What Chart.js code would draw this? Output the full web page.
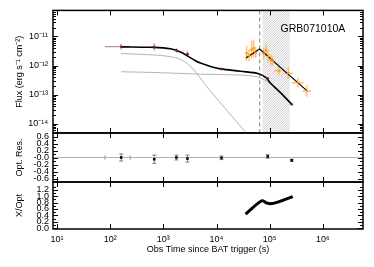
<!DOCTYPE html>
<html>
<head>
<meta charset="utf-8">
<script src="https://cdn.jsdelivr.net/npm/chart.js@4.4.0/dist/chart.umd.min.js"></script>
<style>
  html, body { margin: 0; padding: 0; background: #fff; }
  #wrap { position: relative; width: 374px; height: 267px; }
  #wrap canvas { position: absolute; left: 0; top: 0; }
</style>
</head>
<body>
<div id="wrap">
  <canvas id="fluxChart" width="374" height="267"></canvas>
  <canvas id="resChart" width="374" height="267"></canvas>
  <canvas id="ratioChart" width="374" height="267"></canvas>
</div>
<script>
// ── data (time in s, flux in erg/s/cm2) ──
const xTicks = [1e1, 1e2, 1e3, 1e4, 1e5, 1e6];

// optical data
const optTime = [161, 676, 1760, 2840, 12400, 91700, 260000];
const optTLo = [80, 676, 1760, 2840, 12400, 91700, 260000];
const optTHi = [238, 676, 1760, 2840, 12400, 91700, 260000];
const optFlux = [4.4e-12, 4.27e-12, 3.3e-12, 2.45e-12, 7.6e-13, 3.6e-13, 4.7e-14];
const optErr = [0.10, 0.12, 0.07, 0.10, 0.05, 0.05, 0.03];   // dex
const optRes = [0.00, -0.05, 0.00, -0.03, -0.01, 0.03, -0.08];

// optical model (total) and its two components
const modelTime = [161, 569, 1355, 2094, 2838, 4018, 4989, 7709, 11885, 28380, 61940, 84140, 104400, 161400, 260000];
const modelFlux = [4.36e-12, 4.2e-12, 3.75e-12, 2.88e-12, 2.13e-12, 1.46e-12, 1.21e-12, 9.27e-13, 7.67e-13, 6.35e-13, 5.26e-13, 3.89e-13, 2.47e-13, 1.16e-13, 4.7e-14];
const comp1Time = [161, 771, 1355, 2094, 3228, 4989, 7063, 35240, 43850];
const comp1Flux = [2.57e-12, 2.26e-12, 2.0e-12, 1.63e-12, 9.4e-13, 3.69e-13, 1.61e-13, 5.19e-15, 3.3e-15];
const comp2Time = [161, 877, 4989, 28380, 54450, 73790, 95720, 161400, 271700];
const comp2Flux = [6.12e-13, 5.68e-13, 5.07e-13, 4.7e-13, 4.2e-13, 3.48e-13, 2.57e-13, 1.08e-13, 4.05e-14];

// X-ray data and broken power-law fit
const xrtTime = [36810, 41020, 45710, 49860, 54450, 77090, 85900, 93760, 104400, 114000, 147900, 223400, 337300, 498800];
const xrtFlux = [2.63e-12, 2.21e-12, 3.47e-12, 3.89e-12, 2.77e-12, 2.57e-12, 3.35e-12, 2.05e-12, 1.57e-12, 1.41e-12, 6.61e-13, 5.47e-13, 2.57e-13, 1.35e-13];
const xrtTErr = [0.03, 0.03, 0.03, 0.03, 0.03, 0.04, 0.04, 0.04, 0.04, 0.04, 0.09, 0.09, 0.11, 0.08];  // dex
const xrtFErr = [0.26, 0.20, 0.30, 0.30, 0.20, 0.20, 0.20, 0.20, 0.20, 0.16, 0.16, 0.20, 0.16, 0.20];  // dex
const xfitTime = [35730, 64710, 505800];
const xfitFlux = [1.8e-12, 3.66e-12, 1.35e-13];

// X/Opt ratio
const ratioTime = [35240, 70630, 87700, 109000, 168300, 271700];
const ratioVal = [0.44, 0.86, 0.79, 0.77, 0.86, 0.99];

const breakTime = 65000;
const hatchFrom = 73800, hatchTo = 238000;

const T_MIN = 8.41, T_MAX = 5.69e6;
const FONT = "'Liberation Sans', Arial, sans-serif";

// ── helpers ──
const SUP = { '-': '⁻', '0': '⁰', '1': '¹', '2': '²', '3': '³', '4': '⁴', '5': '⁵', '6': '⁶', '7': '⁷', '8': '⁸', '9': '⁹' };
function pow10(v) {
  const e = Math.round(Math.log10(v));
  return '10' + String(e).split('').map(c => SUP[c]).join('');
}
const pts = (xs, ys) => xs.map((x, i) => ({ x, y: ys[i] }));
const dexLo = (v, e) => v.map((f, i) => f / Math.pow(10, e[i]));
const dexHi = (v, e) => v.map((f, i) => f * Math.pow(10, e[i]));
const setTicks = list => s => { s.ticks = list.map(v => ({ value: v })); };

// ── plugins ──
const frame = {
  id: 'frame',
  afterDraw(chart, args, o) {
    const { ctx, chartArea: a, scales } = chart;
    const x = scales.x, y = scales.y;
    ctx.save();
    ctx.strokeStyle = '#000';
    ctx.lineWidth = 1;
    ctx.beginPath();
    xTicks.forEach(v => {
      const px = Math.round(x.getPixelForValue(v)) + 0.5;
      ctx.moveTo(px, a.top); ctx.lineTo(px, a.top + 5);
      ctx.moveTo(px, a.bottom); ctx.lineTo(px, a.bottom - 5);
    });
    const tick = (v, len) => {
      const py = Math.round(y.getPixelForValue(v)) + 0.5;
      if (py < a.top || py > a.bottom) return;
      ctx.moveTo(a.left, py); ctx.lineTo(a.left + len, py);
      ctx.moveTo(a.right, py); ctx.lineTo(a.right - len, py);
    };
    o.major.forEach(v => tick(v, 5));
    o.minor.forEach(v => tick(v, 3));
    ctx.stroke();
    ctx.lineWidth = 1.5;
    ctx.strokeRect(a.left, a.top, a.right - a.left, a.bottom - a.top);
    ctx.restore();
  }
};

const hatch = {
  id: 'hatch',
  beforeDatasetsDraw(chart) {
    const { ctx, chartArea: a, scales: { x, y } } = chart;
    const x0 = x.getPixelForValue(hatchFrom), x1 = x.getPixelForValue(hatchTo);
    const h = a.bottom - a.top;
    ctx.save();
    ctx.beginPath();
    ctx.rect(x0, a.top, x1 - x0, h);
    ctx.clip();
    ctx.strokeStyle = '#a6a6a6';
    ctx.lineWidth = 0.6;
    ctx.beginPath();
    for (let k = x0 - h; k < x1; k += 2.4) {
      ctx.moveTo(k, a.bottom); ctx.lineTo(k + h, a.top);
    }
    ctx.stroke();
    ctx.restore();

    const xd = x.getPixelForValue(breakTime);
    ctx.save();
    ctx.setLineDash([4, 3]);
    ctx.strokeStyle = '#808080';
    ctx.lineWidth = 1;
    ctx.beginPath();
    ctx.moveTo(xd, a.top); ctx.lineTo(xd, a.bottom);
    ctx.stroke();
    ctx.restore();

    ctx.save();
    ctx.fillStyle = '#000';
    ctx.font = '10.5px ' + FONT;
    ctx.textBaseline = 'middle';
    ctx.fillText('GRB071010A', x.getPixelForValue(1.6e5), y.getPixelForValue(1.75e-11));
    ctx.restore();
  }
};

const errBars = {
  id: 'errBars',
  beforeDatasetsDraw(chart) {
    const { ctx, chartArea: a, scales: { x, y } } = chart;
    ctx.save();
    ctx.beginPath();
    ctx.rect(a.left, a.top, a.right - a.left, a.bottom - a.top);
    ctx.clip();
    chart.data.datasets.forEach(ds => {
      if (!ds.errColor) return;
      ctx.strokeStyle = ds.errColor;
      ctx.lineWidth = ds.errWidth || 1;
      ctx.beginPath();
      ds.data.forEach((p, i) => {
        const px = x.getPixelForValue(p.x), py = y.getPixelForValue(p.y);
        if (ds.yLo) {
          const y0 = y.getPixelForValue(ds.yLo[i]), y1 = y.getPixelForValue(ds.yHi[i]);
          ctx.moveTo(px, y0); ctx.lineTo(px, y1);
          if (ds.cap) {
            ctx.moveTo(px - ds.cap, y0); ctx.lineTo(px + ds.cap, y0);
            ctx.moveTo(px - ds.cap, y1); ctx.lineTo(px + ds.cap, y1);
          }
        }
        if (ds.xLo) {
          const x0 = x.getPixelForValue(ds.xLo[i]), x1 = x.getPixelForValue(ds.xHi[i]);
          if (x1 - x0 < 1) return;
          ctx.moveTo(x0, py); ctx.lineTo(x1, py);
          if (ds.cap) {
            ctx.moveTo(x0, py - ds.cap); ctx.lineTo(x0, py + ds.cap);
            ctx.moveTo(x1, py - ds.cap); ctx.lineTo(x1, py + ds.cap);
          }
        }
      });
      ctx.stroke();
    });
    ctx.restore();
  }
};

// ── shared scale pieces ──
const tickFont = { family: FONT, size: 9 };
const titleFont = { family: FONT, size: 9 };
function xScale(show) {
  return {
    type: 'logarithmic',
    min: T_MIN, max: T_MAX,
    display: show,
    afterBuildTicks: setTicks(xTicks),
    afterFit: s => { s.height = show ? 38 : 0; },
    grid: { display: false, drawTicks: false },
    border: { display: false },
    ticks: { font: tickFont, color: '#000', padding: 5, maxRotation: 0, autoSkip: false, callback: v => pow10(v) },
    title: { display: true, text: 'Obs Time since BAT trigger (s)', font: titleFont, color: '#000', padding: { top: 0, bottom: 12 } }
  };
}
function yBase(extra) {
  return Object.assign({
    afterFit: s => { s.width = 53; },
    grid: { display: false, drawTicks: false },
    border: { display: false }
  }, extra);
}
const base = {
  responsive: false,
  animation: false,
  events: [],
  plugins: { legend: { display: false }, tooltip: { enabled: false } }
};

// ── flux panel ──
const fluxMajor = [1e-14, 1e-13, 1e-12, 1e-11, 1e-10];
const fluxMinor = [];
fluxMajor.forEach(d => { for (let k = 2; k <= 9; k++) fluxMinor.push(k * d / 10); });
fluxMinor.push(...[2, 3, 4, 5, 6, 7, 8, 9].map(k => k * 1e-11));

new Chart(document.getElementById('fluxChart'), {
  type: 'scatter',
  data: {
    datasets: [
      {
        data: pts(xrtTime, xrtFlux), pointRadius: 1.2, pointBackgroundColor: '#ff9a1f', pointBorderWidth: 0,
        errColor: 'rgba(255,175,70,0.75)', errWidth: 1.5,
        yLo: dexLo(xrtFlux, xrtFErr), yHi: dexHi(xrtFlux, xrtFErr),
        xLo: dexLo(xrtTime, xrtTErr), xHi: dexHi(xrtTime, xrtTErr)
      },
      {
        data: pts(optTime, optFlux), pointRadius: 1.3, pointBackgroundColor: '#7a1f1f', pointBorderWidth: 0,
        errColor: 'rgba(185,105,105,0.75)', errWidth: 1.3,
        yLo: dexLo(optFlux, optErr), yHi: dexHi(optFlux, optErr),
        xLo: optTLo, xHi: optTHi
      },
      { data: pts(xfitTime, xfitFlux), showLine: true, borderColor: '#000', borderWidth: 1.2, pointRadius: 0 },
      { data: pts(modelTime, modelFlux), showLine: true, borderColor: '#000', borderWidth: 1.6, pointRadius: 0, tension: 0.35 },
      { data: pts(comp1Time, comp1Flux), showLine: true, borderColor: '#b4b4b4', borderWidth: 1, pointRadius: 0, tension: 0.3 },
      { data: pts(comp2Time, comp2Flux), showLine: true, borderColor: '#b4b4b4', borderWidth: 1, pointRadius: 0, tension: 0.3 }
    ]
  },
  options: Object.assign({}, base, {
    layout: { padding: { top: 5, bottom: 134, left: 0, right: 11 } },
    plugins: Object.assign({}, base.plugins, { frame: { major: fluxMajor, minor: fluxMinor } }),
    scales: {
      x: xScale(false),
      y: yBase({
        type: 'logarithmic',
        min: 4.9e-15, max: 7.7e-11,
        afterBuildTicks: setTicks([1e-14, 1e-13, 1e-12, 1e-11]),
        ticks: { font: tickFont, color: '#000', padding: 5, autoSkip: false, callback: v => pow10(v) },
        title: { display: true, text: 'Flux (erg s⁻¹ cm⁻²)', font: titleFont, color: '#000', padding: { top: 14, bottom: 0 } }
      })
    }
  }),
  plugins: [hatch, errBars, frame]
});

// ── optical residual panel ──
const resMajor = [-0.6, -0.4, -0.2, 0, 0.2, 0.4, 0.6];
const resMinor = [-0.7, -0.5, -0.3, -0.1, 0.1, 0.3, 0.5, 0.7];

new Chart(document.getElementById('resChart'), {
  type: 'scatter',
  data: {
    datasets: [
      {
        data: pts(optTime, optRes), pointStyle: 'rect', pointRadius: 1.8, pointBackgroundColor: '#000', pointBorderWidth: 0,
        errColor: 'rgba(90,90,90,0.75)', errWidth: 1, cap: 2,
        yLo: optRes.map((r, i) => r - optErr[i]), yHi: optRes.map((r, i) => r + optErr[i]),
        xLo: optTLo, xHi: optTHi
      },
      { data: [{ x: T_MIN, y: 0 }, { x: T_MAX, y: 0 }], showLine: true, borderColor: '#b4b4b4', borderWidth: 1, pointRadius: 0 }
    ]
  },
  options: Object.assign({}, base, {
    layout: { padding: { top: 133, bottom: 85, left: 0, right: 11 } },
    plugins: Object.assign({}, base.plugins, { frame: { major: resMajor, minor: resMinor } }),
    scales: {
      x: xScale(false),
      y: yBase({
        type: 'linear',
        min: -0.7, max: 0.7,
        afterBuildTicks: setTicks(resMajor),
        ticks: { font: tickFont, color: '#000', padding: 4, autoSkip: false,
          callback: v => (v <= 0 ? '-' + Math.abs(v).toFixed(1) : v.toFixed(1)) },
        title: { display: true, text: 'Opt. Res.', font: titleFont, color: '#000', padding: { top: 14, bottom: 0 } }
      })
    }
  }),
  plugins: [errBars, frame]
});

// ── X/Opt ratio panel ──
const ratioMajor = [0, 0.2, 0.4, 0.6, 0.8, 1.0, 1.2];
const ratioMinor = [0.1, 0.3, 0.5, 0.7, 0.9, 1.1, 1.3];

new Chart(document.getElementById('ratioChart'), {
  type: 'scatter',
  data: {
    datasets: [
      { data: pts(ratioTime, ratioVal), showLine: true, borderColor: '#000', borderWidth: 3, pointRadius: 0, tension: 0.3 }
    ]
  },
  options: Object.assign({}, base, {
    layout: { padding: { top: 182, bottom: 0, left: 0, right: 11 } },
    plugins: Object.assign({}, base.plugins, { frame: { major: ratioMajor, minor: ratioMinor } }),
    scales: {
      x: xScale(true),
      y: yBase({
        type: 'linear',
        min: -0.03, max: 1.45,
        afterBuildTicks: setTicks(ratioMajor),
        ticks: { font: tickFont, color: '#000', padding: 4, autoSkip: false, callback: v => v.toFixed(1) },
        title: { display: true, text: 'X/Opt', font: titleFont, color: '#000', padding: { top: 14, bottom: 0 } }
      })
    }
  }),
  plugins: [frame]
});
</script>
</body>
</html>
